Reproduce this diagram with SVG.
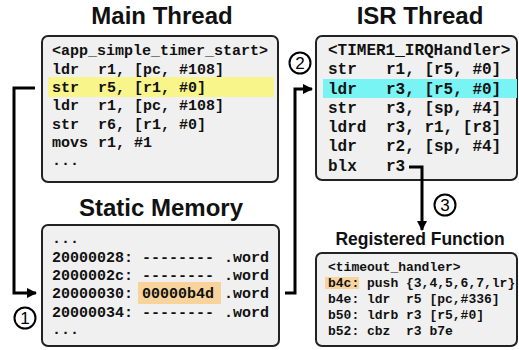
<svg xmlns="http://www.w3.org/2000/svg" width="519" height="350" viewBox="0 0 519 350">
<style>
.title{font-family:"Liberation Sans",Arial,sans-serif;font-weight:bold;fill:#111;text-anchor:middle}
.box{fill:#f0f0f0;stroke:#222;stroke-width:2}
.code{font-family:"Liberation Mono","DejaVu Sans Mono",monospace;font-weight:bold;fill:#111}
.wire{fill:none;stroke:#000;stroke-width:3}
.badge circle{fill:#fff;stroke:#000;stroke-width:2}
.badge text{font-family:"Liberation Sans",Arial,sans-serif;font-size:17px;text-anchor:middle;fill:#000}
</style>
<defs>
<marker id="ah" viewBox="0 0 10 10" refX="9" refY="5" markerWidth="3.5" markerHeight="3.5" orient="auto" markerUnits="strokeWidth">
<path d="M0,0 L10,5 L0,10 Z" fill="#000"/>
</marker>
</defs>
<rect width="519" height="350" fill="#fff"/>

<g id="main-thread">
<text class="title" x="162" y="24" font-size="24">Main Thread</text>
<rect class="box" x="42" y="36" width="236" height="146" rx="6"/>
<rect x="48" y="77" width="226" height="20" fill="#f8f58a"/>
<g class="code" font-size="15">
<text x="52" y="55">&lt;app_simple_timer_start&gt;</text>
<text x="52" y="74">ldr<tspan x="98">r1, [pc, #108]</tspan></text>
<text x="52" y="92">str<tspan x="98">r5, [r1, #0]</tspan></text>
<text x="52" y="110">ldr<tspan x="98">r1, [pc, #108]</tspan></text>
<text x="52" y="129">str<tspan x="98">r6, [r1, #0]</tspan></text>
<text x="52" y="147">movs<tspan x="98">r1, #1</tspan></text>
<text x="52" y="165">...</text>
</g>
</g>

<g id="isr-thread">
<text class="title" x="420" y="24" font-size="24">ISR Thread</text>
<rect class="box" x="316" y="36" width="201" height="144" rx="6"/>
<rect x="323" y="79" width="194" height="19" fill="#78f4f4"/>
<g class="code" font-size="16">
<text x="328" y="55">&lt;TIMER1_IRQHandler&gt;</text>
<text x="328" y="74">str<tspan x="386">r1, [r5, #0]</tspan></text>
<text x="328" y="94">ldr<tspan x="386">r3, [r5, #0]</tspan></text>
<text x="328" y="113">str<tspan x="386">r3, [sp, #4]</tspan></text>
<text x="328" y="132">ldrd<tspan x="386">r3, r1, [r8]</tspan></text>
<text x="328" y="151">ldr<tspan x="386">r2, [sp, #4]</tspan></text>
<text x="328" y="171">blx<tspan x="386">r3</tspan></text>
</g>
</g>

<g id="static-memory">
<text class="title" x="161" y="216" font-size="24">Static Memory</text>
<rect class="box" x="42" y="225" width="237" height="121" rx="6"/>
<rect x="138" y="282" width="83" height="22" fill="#f8d49c"/>
<g class="code" font-size="15">
<text x="52" y="243">...</text>
<text x="52" y="262">20000028:<tspan x="142">--------</tspan><tspan x="224">.word</tspan></text>
<text x="52" y="280">2000002c:<tspan x="142">--------</tspan><tspan x="224">.word</tspan></text>
<text x="52" y="298">20000030:<tspan x="142">00000b4d</tspan><tspan x="224">.word</tspan></text>
<text x="52" y="317">20000034:<tspan x="142">--------</tspan><tspan x="224">.word</tspan></text>
<text x="52" y="334">...</text>
</g>
</g>

<g id="registered-function">
<text class="title" x="420" y="245" font-size="17.5">Registered Function</text>
<rect class="box" x="316" y="253" width="201" height="93" rx="6"/>
<rect x="325" y="277" width="34" height="12" fill="#f8d49c"/>
<g class="code" font-size="13">
<text x="328" y="271">&lt;timeout_handler&gt;</text>
<text x="328" y="287">b4c:<tspan x="367">push</tspan><tspan x="406">{3,4,5,6,7,lr}</tspan></text>
<text x="328" y="303">b4e:<tspan x="367">ldr</tspan><tspan x="406">r5 [pc,#336]</tspan></text>
<text x="328" y="319">b50:<tspan x="367">ldrb</tspan><tspan x="406">r3 [r5,#0]</tspan></text>
<text x="328" y="335">b52:<tspan x="367">cbz</tspan><tspan x="406">r3 b7e</tspan></text>
</g>
</g>

<g id="connectors">
<path class="wire" d="M35,88 H14 V293 H36" marker-end="url(#ah)"/>
<path class="wire" d="M285,293 H295 V89 H312" marker-end="url(#ah)"/>
<path class="wire" d="M409,167 H422 V230" marker-end="url(#ah)"/>
<g class="badge">
<circle cx="25" cy="318" r="10.5"/><text x="25" y="324">1</text>
<circle cx="300" cy="63" r="10.5"/><text x="300" y="69">2</text>
<circle cx="445" cy="205" r="10.5"/><text x="445" y="211">3</text>
</g>
</g>
</svg>
